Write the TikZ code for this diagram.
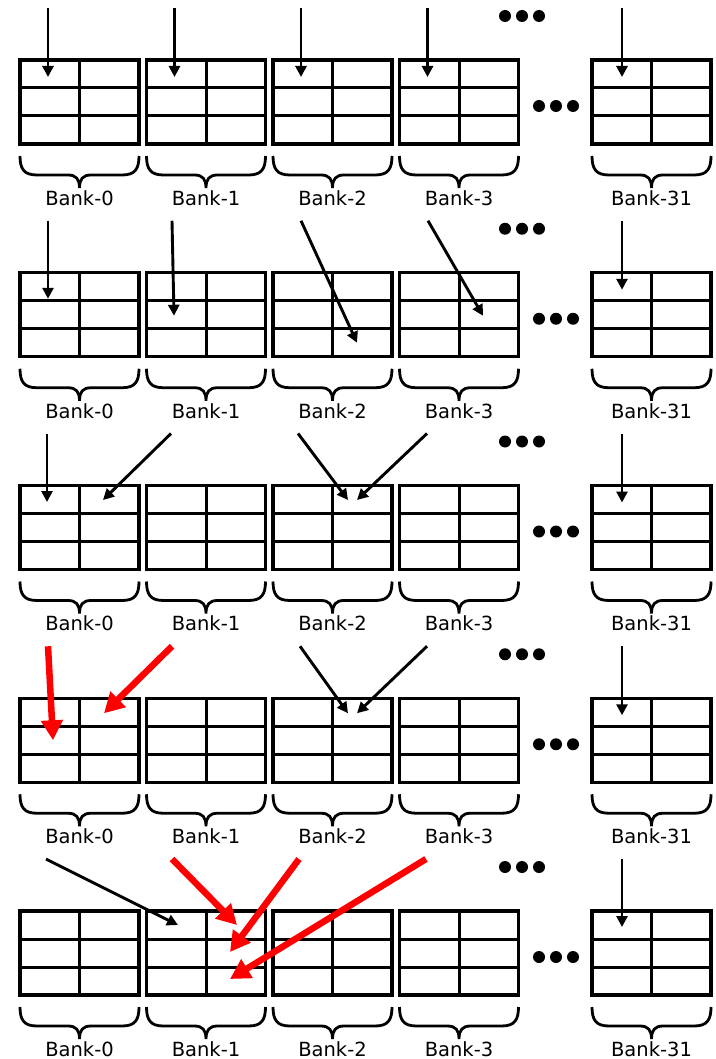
\documentclass[tikz,border=0pt]{standalone}
\usepackage{fontspec}
\setmainfont{DejaVu Sans}
\usetikzlibrary{arrows.meta,calc}

\tikzset{
  bank/.style={draw,line width=3.3pt,minimum width=119pt,minimum height=84pt,inner sep=0pt,outer sep=0pt},
  gridline/.style={line width=3pt},
  banklabel/.style={font=\fontsize{19.5}{22}\selectfont,inner sep=1pt},
  ptr/.style={-{Triangle[length=11pt,width=11pt]},line width=2.9pt},
  hot/.style={-{Triangle[length=20pt,width=21pt]},line width=6.5pt,red},
  curly/.pic={
    \draw[line width=2.8pt] (0,-1) .. controls (0,12) and (4,18) .. (17,18) -- (48,18)
      .. controls (56,18) and (59.5,22) .. (59.5,31) .. controls (59.5,22) and (63,18) .. (71,18)
      -- (102,18) .. controls (115,18) and (119,12) .. (119,-1);
  }
}

\begin{document}
\begin{tikzpicture}[x=1pt,y=-1pt]
  \useasboundingbox (0,0) rectangle (715,1059);

  % five snapshots of the banks
  \foreach \r/\t in {1/60,2/272.75,3/485.5,4/698.25,5/911}{
    \foreach \b/\l in {0/20,1/146.5,2/273,3/399.5,31/592}{
      \node[bank] (r\r-\b) at (\l+59.5,\t+42) {};
      \draw[gridline] (r\r-\b.north) -- (r\r-\b.south);
      \draw[gridline] ($(r\r-\b.north west)!1/3!(r\r-\b.south west)$) -- ($(r\r-\b.north east)!1/3!(r\r-\b.south east)$);
      \draw[gridline] ($(r\r-\b.north west)!2/3!(r\r-\b.south west)$) -- ($(r\r-\b.north east)!2/3!(r\r-\b.south east)$);
      \pic at (\l,\t+97) {curly};
      \node[banklabel] (l\r-\b) at (\l+59.5,\t+138) {Bank-\b};
    }
    % dots for the skipped banks
    \foreach \x in {505,522,539} \fill (\x,\t-44) circle[radius=6];
    \foreach \x in {539,556,573} \fill (\x,\t+46) circle[radius=6];
  }

  % accesses: row / from bank / tail x / to bank / head x / head y / style
  \foreach \r/\s/\sx/\d/\hx/\hy/\st in {
      1/0/28/0/28/17/ptr, 1/1/28/1/28/17/ptr, 1/2/28/2/28/17/ptr, 1/3/28/3/28/17/ptr, 1/31/30/31/30/17/ptr,
      2/0/28/0/28/26/ptr, 2/1/25.5/1/27.5/43/ptr, 2/2/28/2/84/70/ptr, 2/3/28.5/3/83.5/43/ptr, 2/31/30/31/30/17/ptr,
      3/0/27/0/27/16.5/ptr, 3/1/24.5/0/83/14.5/ptr, 3/2/25/2/75/14.5/ptr, 3/3/27.5/2/84/14.5/ptr, 3/31/30/31/30/17/ptr,
      4/0/28/0/33/42/hot, 4/1/25.5/0/84/15/hot, 4/2/27/2/75/15/ptr, 4/3/27.5/2/84/15/ptr, 4/31/30/31/30/17/ptr,
      5/0/26/1/31.5/14/ptr, 5/1/25.5/1/90.5/14/hot, 5/2/26/1/83.5/41/hot, 5/3/26.5/1/83.5/68/hot, 5/31/30/31/30/16/ptr}{
    \coordinate (t\r-\s) at ([shift={(\sx,-52)}]r\r-\s.north west);
    \coordinate (h\r-\s) at ([shift={(\hx,\hy)}]r\r-\d.north west);
    \draw[\st] (t\r-\s) -- (h\r-\s);
  }
\end{tikzpicture}
\end{document}
